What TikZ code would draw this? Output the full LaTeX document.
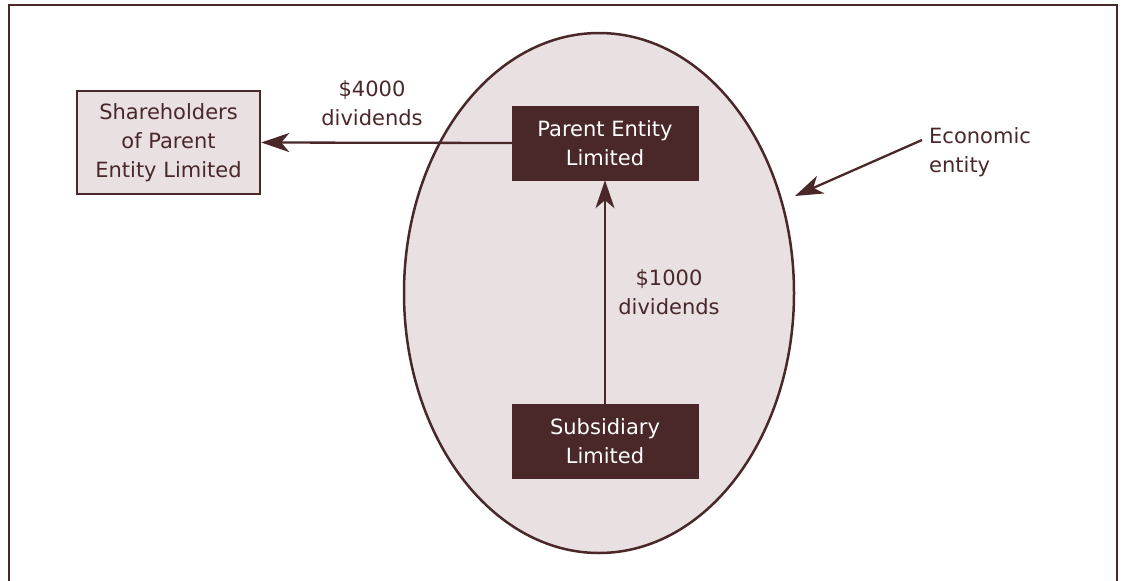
\documentclass[tikz,border=0pt]{standalone}
\usepackage{fontspec}
\setmainfont{DejaVu Sans}
\usetikzlibrary{arrows.meta,shapes.geometric}
\definecolor{dk}{HTML}{4A2829}
\definecolor{lt}{HTML}{E8E0E1}
\tikzset{
  darkbox/.style={draw=dk, fill=dk, text=white, minimum width=186pt, minimum height=74pt, inner sep=0pt, align=center, font=\fontsize{21}{29}\selectfont},
  lightbox/.style={draw=dk, line width=2.5pt, fill=lt, text=dk, minimum width=183pt, minimum height=103pt, inner sep=0pt, align=center, font=\fontsize{21}{29}\selectfont},
  lbl/.style={text=dk, align=center, font=\fontsize{21}{29}\selectfont, inner sep=0pt},
  conn/.style={draw=dk, line width=2.3pt, -{Stealth[length=28pt,width=19pt,inset=8pt]}},
}
\begin{document}
\begin{tikzpicture}[x=1pt,y=-1pt]
\useasboundingbox (0,0) rectangle (1128,581);
\draw[dk, line width=2pt] (9,581) -- (9,5) -- (1117,5) -- (1117,581);
\node[ellipse, draw=dk, line width=2.5pt, fill=lt, minimum width=390pt, minimum height=520pt, inner sep=0pt] (eco) at (599,293) {};
\node[darkbox] (parent) at (605,143) {Parent Entity\\Limited};
\node[darkbox] (sub) at (605,441) {Subsidiary\\Limited};
\node[lightbox] (share) at (168.5,142.5) {Shareholders\\of Parent\\Entity Limited};
\draw[conn] (parent.west) -- (share.east);
\draw[conn] (sub.north) -- (parent.south);
\node[lbl] (l4000) at (372,103) {\$4000\\dividends};
\node[lbl] (l1000) at (669,292) {\$1000\\dividends};
\node[lbl, align=left, anchor=west] (ecol) at (929,152) {Economic\\entity};
\coordinate (ecostart) at (922,140);
\coordinate (ecotip) at (795,196);
\draw[conn] (ecostart) -- (ecotip);
\end{tikzpicture}
\end{document}
